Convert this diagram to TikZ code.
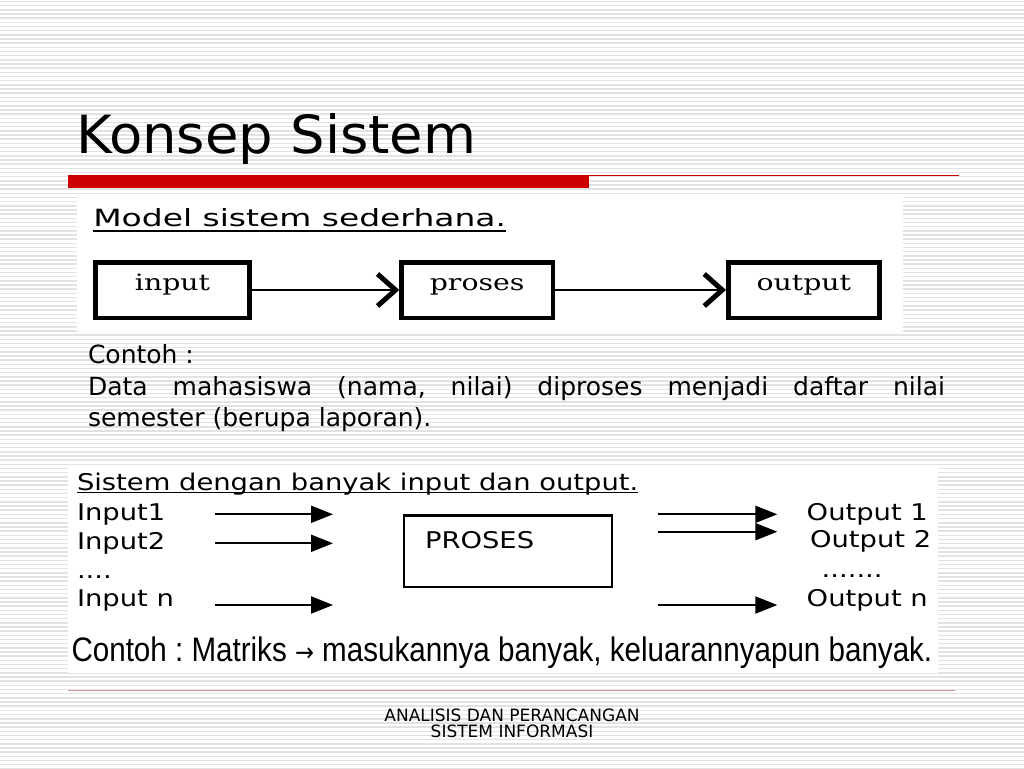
\documentclass[tikz,border=0pt]{standalone}
\usepackage{fontspec}
\usepackage{graphicx}
\setmainfont{DejaVu Sans}
\newfontfamily\serifv{DejaVu Serif}
\newfontfamily\arialf{Liberation Sans}
\usetikzlibrary{arrows.meta}
\definecolor{stripecol}{RGB}{226,226,226}
\definecolor{slidered}{RGB}{204,0,0}
\definecolor{footline}{RGB}{214,150,150}
\newcommand{\fsz}[1]{\fontsize{#1}{#1}\selectfont}
\frenchspacing
\tikzset{
  txt/.style={anchor=base west, inner sep=0pt, outer sep=0pt},
  stripeline/.style={draw=stripecol, line width=1.5pt},
  whitepanel/.style={fill=white, draw=none},
  simplebox/.style={draw=black, line width=4.5pt, inner sep=0pt,
    minimum height=55.5pt, text height=27.75pt, text depth=27.75pt},
  prosesbox/.style={draw=black, line width=2.2pt, inner sep=0pt,
    minimum width=208.4pt, minimum height=71.8pt},
  chev/.style={line width=2.8pt, -{Straight Barb[length=18pt,width=32pt,line width=5pt]}},
  tri/.style={line width=2pt, -{Triangle[length=22pt,width=17pt]}},
  ul/.style={line width=1.7pt},
}
\begin{document}
\begin{tikzpicture}[x=1pt,y=-1pt]
\useasboundingbox (0,0) rectangle (1024,768);
% striped background
\foreach \k in {0,...,184} {
  \draw[stripeline] (0,{\k*4.17+1.5}) -- (1024,{\k*4.17+1.5});
}
% white picture panels
\fill[whitepanel] (77,194) rectangle (903,332);
\fill[whitepanel] (68,466) rectangle (938,673);
% red title bar
\fill[slidered] (68,175) rectangle (589,188);
\draw[slidered, line width=1.3pt] (589,175.6) -- (959,175.6);
% title
\node[txt] (title) at (76,153.3) {\scalebox{1.035}[1]{\fsz{52.6}Konsep Sistem}};
% ---------- upper picture ----------
\node[txt] (model) at (93.3,226.7) {\scalebox{1.39}[1]{\fsz{23.7}Model sistem sederhana.}};
\draw[ul] ([yshift=-4pt]model.base west) -- ([yshift=-4pt]model.base east);
\node[simplebox, minimum width=153.9pt] (inb) at (172.5,290) {\scalebox{1.26}[1]{\serifv\fsz{22.5}input}};
\node[simplebox, minimum width=151.2pt] (prb) at (477.15,290) {\scalebox{1.26}[1]{\serifv\fsz{22.5}proses}};
\node[simplebox, minimum width=151.2pt] (outb) at (803.85,290) {\scalebox{1.26}[1]{\serifv\fsz{22.5}output}};
\draw[chev] (inb.east) -- (prb.west);
\draw[chev] (prb.east) -- (outb.west);
% ---------- example paragraph ----------
\node[txt] (c1) at (88,363.3) {\fsz{25}Contoh :};
\node[txt] (c2) at (88,395) {\fsz{25}\makebox[857pt][s]{Data mahasiswa (nama, nilai) diproses menjadi daftar nilai}};
\node[txt] (c3) at (88,426.7) {\fsz{25}semester (berupa laporan).};
% ---------- lower picture ----------
\node[txt] (sis) at (77,490) {\scalebox{1.19}[1]{\fsz{23}Sistem dengan banyak input dan output.}};
\draw[ul] ([yshift=-2.5pt]sis.base west) -- ([yshift=-2.5pt]sis.base east);
\node[txt] (i1) at (77,520) {\scalebox{1.19}[1]{\fsz{23}Input1}};
\node[txt] (i2) at (77,549.3) {\scalebox{1.19}[1]{\fsz{23}Input2}};
\node[txt] (idots) at (77,578) {\scalebox{1.19}[1]{\fsz{23}....}};
\node[txt] (in) at (77,606.7) {\scalebox{1.19}[1]{\fsz{23}Input n}};
\node[prosesbox] (pb) at (508,551.3) {};
\node[txt] (pt) at (425,548.3) {\scalebox{1.19}[1]{\fsz{23}PROSES}};
\node[txt] (o1) at (806.7,520) {\scalebox{1.19}[1]{\fsz{23}Output 1}};
\node[txt] (o2) at (810,547.3) {\scalebox{1.19}[1]{\fsz{23}Output 2}};
\node[txt] (odots) at (821.7,577.5) {\scalebox{1.19}[1]{\fsz{23}.......}};
\node[txt] (on) at (806.7,606.7) {\scalebox{1.19}[1]{\fsz{23}Output n}};
\coordinate (ia1) at (215,514.3); \coordinate (ib1) at (333,514.3);
\coordinate (ia2) at (215,543.3); \coordinate (ib2) at (333,543.3);
\coordinate (ia3) at (215,605);   \coordinate (ib3) at (333,605);
\coordinate (oa1) at (657.7,514.3); \coordinate (ob1) at (777.3,514.3);
\coordinate (oa2) at (657.7,531.7); \coordinate (ob2) at (777.3,531.7);
\coordinate (oa3) at (657.7,605);   \coordinate (ob3) at (777.3,605);
\draw[tri] (ia1) -- (ib1);
\draw[tri] (ia2) -- (ib2);
\draw[tri] (ia3) -- (ib3);
\draw[tri] (oa1) -- (ob1);
\draw[tri] (oa2) -- (ob2);
\draw[tri] (oa3) -- (ob3);
\node[txt] (mat) at (71.5,661.7) {\scalebox{0.87}[1]{\arialf\fsz{34}Contoh : Matriks {\normalfont\fsz{26}→} masukannya banyak, keluarannyapun banyak.}};
% ---------- footer ----------
\draw[footline, line width=1pt] (68,690.7) -- (955,690.7);
\node[anchor=base, inner sep=0pt] (f1) at (512,721.7) {\fsz{17}ANALISIS DAN PERANCANGAN};
\node[anchor=base, inner sep=0pt] (f2) at (512,737.5) {\fsz{17}SISTEM INFORMASI};
\end{tikzpicture}
\end{document}
